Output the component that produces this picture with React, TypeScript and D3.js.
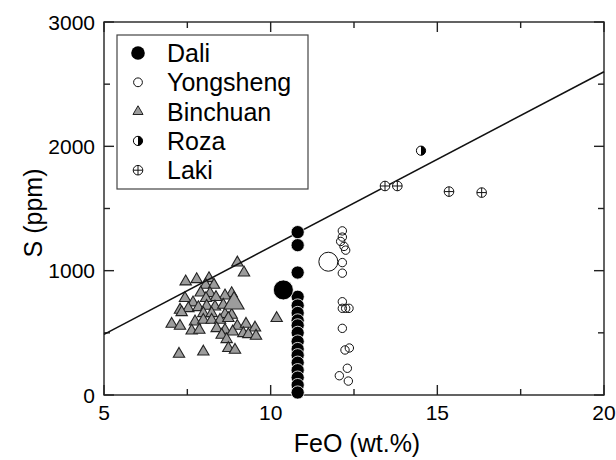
import React, { Component } from "react";
import * as d3 from "d3";

type Pt = { x: number; y: number };

const xTicks = [5, 10, 15, 20];
const xMinorTicks = [7.5, 12.5, 17.5];
const yTicks = [0, 1000, 2000, 3000];
const yMinorTicks = [500, 1500, 2500];

const legendLabels = ["Dali", "Yongsheng", "Binchuan", "Roza", "Laki"];

// FeO (wt.%) vs S (ppm)
const dali: Pt[] = [
  1310, 1205, 985, 790, 720, 660, 600, 560, 500, 430, 370, 320, 260, 200, 140, 80, 20,
].map((s) => ({ x: 10.81, y: s }));
const daliMean: Pt[] = [{ x: 10.38, y: 845 }];

const yongsheng: Pt[] = [
  { x: 12.15, y: 1320 },
  { x: 12.15, y: 1270 },
  { x: 12.1, y: 1235 },
  { x: 12.2, y: 1195 },
  { x: 12.25, y: 1165 },
  { x: 12.15, y: 1065 },
  { x: 12.15, y: 980 },
  { x: 12.15, y: 750 },
  { x: 12.15, y: 697 },
  { x: 12.25, y: 697 },
  { x: 12.35, y: 697 },
  { x: 12.15, y: 536 },
  { x: 12.23, y: 362 },
  { x: 12.36, y: 378 },
  { x: 12.3, y: 215 },
  { x: 12.06, y: 155 },
  { x: 12.33, y: 112 },
];
const yongshengMean: Pt[] = [{ x: 11.73, y: 1072 }];

const binchuan: Pt[] = [
  { x: 9.0, y: 1064 }, { x: 9.2, y: 984 }, { x: 7.45, y: 912 }, { x: 7.78, y: 930 },
  { x: 8.15, y: 938 }, { x: 8.05, y: 885 }, { x: 8.3, y: 885 }, { x: 7.9, y: 823 },
  { x: 7.43, y: 778 }, { x: 8.18, y: 818 }, { x: 8.83, y: 818 }, { x: 8.63, y: 799 },
  { x: 8.36, y: 786 }, { x: 8.06, y: 778 }, { x: 7.67, y: 743 }, { x: 7.28, y: 684 },
  { x: 7.53, y: 697 }, { x: 7.83, y: 705 }, { x: 8.08, y: 716 }, { x: 8.33, y: 710 },
  { x: 8.58, y: 724 }, { x: 7.33, y: 665 }, { x: 7.98, y: 657 }, { x: 8.23, y: 657 },
  { x: 8.63, y: 649 }, { x: 8.83, y: 644 }, { x: 10.18, y: 617 }, { x: 7.73, y: 590 },
  { x: 7.98, y: 603 }, { x: 8.23, y: 603 }, { x: 8.48, y: 603 }, { x: 8.73, y: 617 },
  { x: 7.03, y: 571 }, { x: 7.28, y: 555 }, { x: 9.0, y: 555 }, { x: 9.26, y: 571 },
  { x: 9.53, y: 541 }, { x: 7.63, y: 517 }, { x: 7.86, y: 523 }, { x: 8.38, y: 536 },
  { x: 8.63, y: 523 }, { x: 8.86, y: 509 }, { x: 9.18, y: 496 }, { x: 9.33, y: 488 },
  { x: 9.56, y: 475 }, { x: 8.53, y: 483 }, { x: 8.68, y: 448 }, { x: 8.73, y: 376 },
  { x: 8.93, y: 362 }, { x: 7.25, y: 330 }, { x: 7.98, y: 348 },
];
const binchuanMean: Pt[] = [{ x: 8.9, y: 738 }];

const roza: Pt[] = [{ x: 14.51, y: 1965 }];

const laki: Pt[] = [
  { x: 13.43, y: 1681 },
  { x: 13.8, y: 1681 },
  { x: 15.35, y: 1636 },
  { x: 16.33, y: 1628 },
];

const trendLine: Pt[] = [
  { x: 5, y: 487 },
  { x: 20, y: 2600 },
];

const FONT = "'Liberation Sans', Arial, sans-serif";

class App extends Component {
  svgRef = React.createRef<SVGSVGElement>();
  width = 616;
  height = 460;
  left = 104;
  right = 604;
  top = 22;
  bottom = 395;

  xScale = d3.scaleLinear().domain([5, 20]).range([this.left, this.right]);
  yScale = d3.scaleLinear().domain([0, 3000]).range([this.bottom, this.top]);

  componentDidMount() {
    const svg = d3.select(this.svgRef.current);
    svg.selectAll("*").remove();
    this.renderFrame(svg);
    this.renderTriangles(svg, binchuan, 56);
    this.renderTriangles(svg, binchuanMean, 175);
    this.renderLine(svg);
    this.renderFilled(svg, dali, 6.6);
    this.renderFilled(svg, daliMean, 10);
    this.renderOpen(svg, yongsheng, 4.2);
    this.renderOpen(svg, yongshengMean, 9.5);
    roza.forEach((d) => this.halfCircle(svg, this.xScale(d.x), this.yScale(d.y), 4.6));
    laki.forEach((d) => this.crossCircle(svg, this.xScale(d.x), this.yScale(d.y), 4.8));
    this.renderLegend(svg);
  }

  renderFrame(svg: any) {
    const x = this.xScale;
    const y = this.yScale;
    const g = svg.append("g").attr("stroke", "#222").attr("stroke-width", 1.4);
    const major = 10;
    const minor = 6;

    const tick = (x1: number, y1: number, x2: number, y2: number) =>
      g.append("line").attr("x1", x1).attr("y1", y1).attr("x2", x2).attr("y2", y2);

    xTicks.forEach((t) => {
      tick(x(t), this.bottom, x(t), this.bottom - major);
      tick(x(t), this.top, x(t), this.top + major);
    });
    xMinorTicks.forEach((t) => {
      tick(x(t), this.bottom, x(t), this.bottom - minor);
      tick(x(t), this.top, x(t), this.top + minor);
    });
    yTicks.forEach((t) => {
      tick(this.left, y(t), this.left + major, y(t));
      tick(this.right, y(t), this.right - major, y(t));
    });
    yMinorTicks.forEach((t) => {
      tick(this.left, y(t), this.left + minor, y(t));
      tick(this.right, y(t), this.right - minor, y(t));
    });

    g.append("rect")
      .attr("x", this.left)
      .attr("y", this.top)
      .attr("width", this.right - this.left)
      .attr("height", this.bottom - this.top)
      .attr("fill", "none");

    svg
      .append("g")
      .selectAll("text")
      .data(xTicks)
      .enter()
      .append("text")
      .attr("x", (d: number) => x(d))
      .attr("y", this.bottom + 25)
      .attr("text-anchor", "middle")
      .attr("font-family", FONT)
      .attr("font-size", 21)
      .text((d: number) => d);

    svg
      .append("g")
      .selectAll("text")
      .data(yTicks)
      .enter()
      .append("text")
      .attr("x", this.left - 9)
      .attr("y", (d: number) => y(d) + 7.5)
      .attr("text-anchor", "end")
      .attr("font-family", FONT)
      .attr("font-size", 21)
      .text((d: number) => d);

    svg
      .append("text")
      .attr("x", 357)
      .attr("y", 452)
      .attr("text-anchor", "middle")
      .attr("font-family", FONT)
      .attr("font-size", 25)
      .text("FeO (wt.%)");

    svg
      .append("text")
      .attr("transform", "translate(42,213) rotate(-90)")
      .attr("text-anchor", "middle")
      .attr("font-family", FONT)
      .attr("font-size", 25)
      .text("S (ppm)");
  }

  renderLine(svg: any) {
    const line = d3
      .line<Pt>()
      .x((d) => this.xScale(d.x))
      .y((d) => this.yScale(d.y));
    svg
      .append("path")
      .attr("d", line(trendLine))
      .attr("fill", "none")
      .attr("stroke", "#111")
      .attr("stroke-width", 1.5);
  }

  renderTriangles(svg: any, data: Pt[], size: number) {
    const tri = d3.symbol().type(d3.symbolTriangle).size(size);
    svg
      .append("g")
      .selectAll("path")
      .data(data)
      .enter()
      .append("path")
      .attr("d", tri())
      .attr("transform", (d: Pt) => "translate(" + this.xScale(d.x) + "," + this.yScale(d.y) + ")")
      .attr("fill", "#9c9c9c")
      .attr("stroke", "#222")
      .attr("stroke-width", 1.1);
  }

  renderFilled(svg: any, data: Pt[], r: number) {
    svg
      .append("g")
      .selectAll("circle")
      .data(data)
      .enter()
      .append("circle")
      .attr("cx", (d: Pt) => this.xScale(d.x))
      .attr("cy", (d: Pt) => this.yScale(d.y))
      .attr("r", r)
      .attr("fill", "#000")
      .attr("stroke", "#fff")
      .attr("stroke-width", 0.8);
  }

  renderOpen(svg: any, data: Pt[], r: number) {
    svg
      .append("g")
      .selectAll("circle")
      .data(data)
      .enter()
      .append("circle")
      .attr("cx", (d: Pt) => this.xScale(d.x))
      .attr("cy", (d: Pt) => this.yScale(d.y))
      .attr("r", r)
      .attr("fill", "none")
      .attr("stroke", "#111")
      .attr("stroke-width", 1);
  }

  halfCircle(svg: any, cx: number, cy: number, r: number) {
    const g = svg.append("g").attr("transform", "translate(" + cx + "," + cy + ")");
    g.append("circle").attr("r", r).attr("fill", "#fff");
    g.append("path")
      .attr("d", "M0," + -r + " A" + r + "," + r + " 0 0,1 0," + r + " Z")
      .attr("fill", "#000");
    g.append("circle").attr("r", r).attr("fill", "none").attr("stroke", "#000").attr("stroke-width", 1);
  }

  crossCircle(svg: any, cx: number, cy: number, r: number) {
    const g = svg
      .append("g")
      .attr("transform", "translate(" + cx + "," + cy + ")")
      .attr("stroke", "#111")
      .attr("stroke-width", 1);
    g.append("circle").attr("r", r).attr("fill", "#fff");
    g.append("line").attr("x1", -r).attr("x2", r).attr("y1", 0).attr("y2", 0);
    g.append("line").attr("y1", -r).attr("y2", r).attr("x1", 0).attr("x2", 0);
  }

  renderLegend(svg: any) {
    const bx = 117;
    const by = 35;
    svg
      .append("rect")
      .attr("x", bx)
      .attr("y", by)
      .attr("width", 191)
      .attr("height", 154)
      .attr("fill", "#fff")
      .attr("stroke", "#444")
      .attr("stroke-width", 1.2);

    const rowY = (i: number) => by + 18 + i * 29.3;
    const sx = 138;

    svg
      .append("g")
      .selectAll("text")
      .data(legendLabels)
      .enter()
      .append("text")
      .attr("x", 167)
      .attr("y", (d: string, i: number) => rowY(i) + 9)
      .attr("font-family", FONT)
      .attr("font-size", 25)
      .text((d: string) => d);

    svg.append("circle").attr("cx", sx).attr("cy", rowY(0)).attr("r", 6.8).attr("fill", "#000");
    svg
      .append("circle")
      .attr("cx", sx)
      .attr("cy", rowY(1))
      .attr("r", 4.4)
      .attr("fill", "none")
      .attr("stroke", "#111")
      .attr("stroke-width", 1);
    svg
      .append("path")
      .attr("d", d3.symbol().type(d3.symbolTriangle).size(44)())
      .attr("transform", "translate(" + sx + "," + rowY(2) + ")")
      .attr("fill", "#9c9c9c")
      .attr("stroke", "#222")
      .attr("stroke-width", 1);
    this.halfCircle(svg, sx, rowY(3), 4.6);
    this.crossCircle(svg, sx, rowY(4), 4.8);
  }

  render() {
    return (
      <svg
        ref={this.svgRef}
        width={this.width}
        height={this.height}
        style={{ position: "absolute", left: 0, top: 0, background: "#fff" }}
      />
    );
  }
}

export default App;
